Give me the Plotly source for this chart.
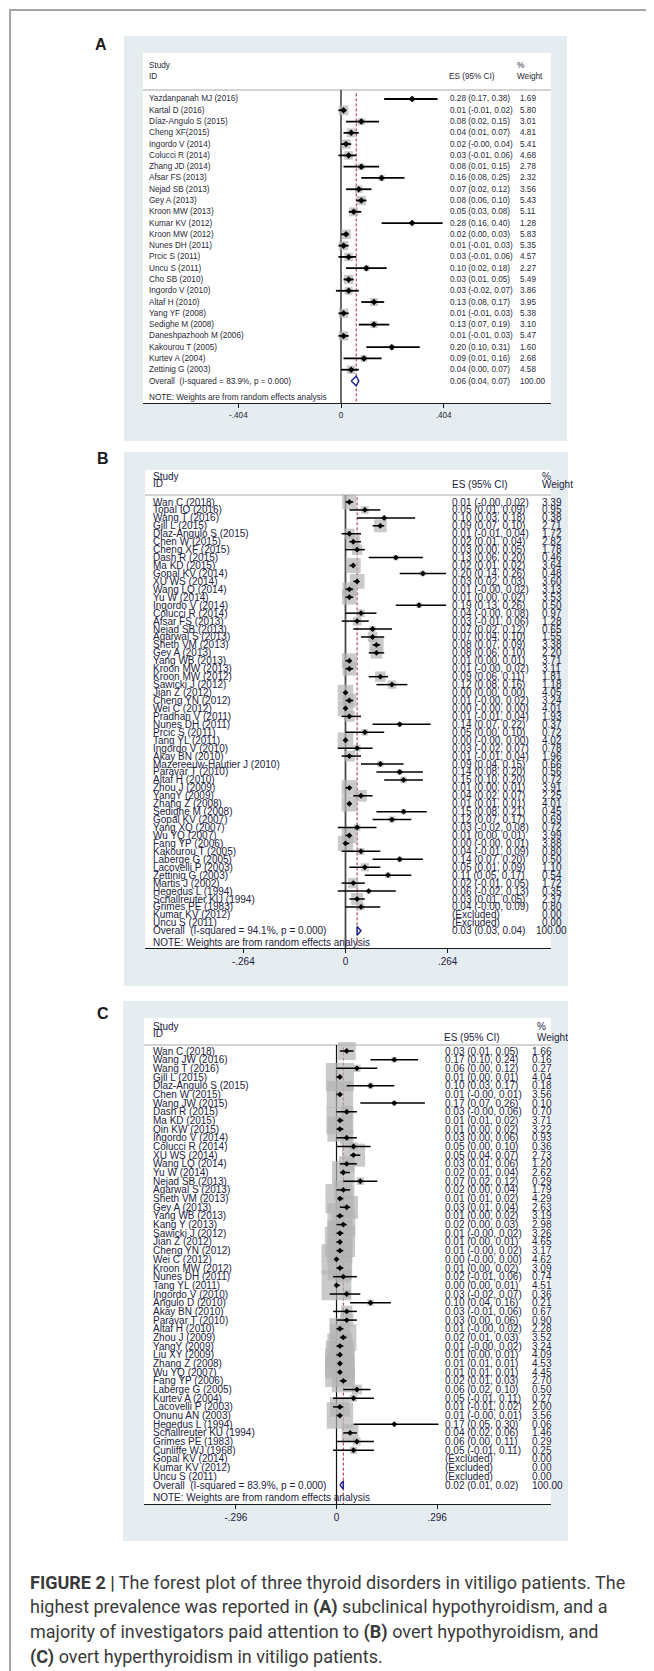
import math
import plotly.graph_objects as go

# ---------------- Panel A : subclinical hypothyroidism ----------------
a_study = ["Yazdanpanah MJ (2016)", "Kartal D (2016)", "Díaz-Angulo S (2015)", "Cheng XF(2015)",
           "Ingordo V (2014)", "Colucci R (2014)", "Zhang JD (2014)", "Afsar FS (2013)",
           "Nejad SB (2013)", "Gey A (2013)", "Kroon MW (2013)", "Kumar KV (2012)",
           "Kroon MW (2012)", "Nunes DH (2011)", "Prcic S (2011)", "Uncu S (2011)",
           "Cho SB (2010)", "Ingordo V (2010)", "Altaf H (2010)", "Yang YF (2008)",
           "Sedighe M (2008)", "Daneshpazhooh M (2006)", "Kakourou T (2005)", "Kurtev A (2004)",
           "Zettinig G (2003)"]
a_es = [0.28, 0.01, 0.08, 0.04, 0.02, 0.03, 0.08, 0.16, 0.07, 0.08, 0.05, 0.28, 0.02,
        0.01, 0.03, 0.10, 0.03, 0.03, 0.13, 0.01, 0.13, 0.01, 0.20, 0.09, 0.04]
a_lo = [0.17, -0.01, 0.02, 0.01, -0.0, -0.01, 0.01, 0.08, 0.02, 0.06, 0.03, 0.16, 0.00,
        -0.01, -0.01, 0.02, 0.01, -0.02, 0.08, -0.01, 0.07, -0.01, 0.10, 0.01, 0.00]
a_hi = [0.38, 0.02, 0.15, 0.07, 0.04, 0.06, 0.15, 0.25, 0.12, 0.10, 0.08, 0.40, 0.03,
        0.03, 0.06, 0.18, 0.05, 0.07, 0.17, 0.03, 0.19, 0.03, 0.31, 0.16, 0.07]
a_wt = [1.69, 5.80, 3.01, 4.81, 5.41, 4.68, 2.78, 2.32, 3.56, 5.43, 5.11, 1.28, 5.83,
        5.35, 4.57, 2.27, 5.49, 3.86, 3.95, 5.38, 3.10, 5.47, 1.60, 2.68, 4.58]
a_overall = [0.06, 0.04, 0.07]
a_isq = "83.9%"
a_ticks = [-0.404, 0, 0.404]
a_ticktext = ["-.404", "0", ".404"]

# ---------------- Panel B : overt hypothyroidism ----------------
b_study = ["Wan C (2018)", "Topal IO (2016)", "Wang T (2016)", "Gjll L (2015)", "Diaz-Angulo S (2015)",
           "Chen W (2015)", "Cheng XF (2015)", "Dash R (2015)", "Ma KD (2015)", "Gopal KV (2014)",
           "XU WS (2014)", "Wang LQ (2014)", "Yu W (2014)", "Ingordo V (2014)", "Colucci R (2014)",
           "Afsar FS (2013)", "Nejad SB (2013)", "Agarwal S (2013)", "Sheth VM (2013)", "Gey A (2013)",
           "Yang WB (2013)", "Kroon MW (2013)", "Kroon MW (2012)", "Sawicki J (2012)", "Jian Z (2012)",
           "Cheng YN (2012)", "Wei C (2012)", "Pradhan V (2011)", "Nunes DH (2011)", "Prcic S (2011)",
           "Tang YL (2011)", "Ingordo V (2010)", "Akay BN (2010)", "Mazereeuw-Hautier J (2010)",
           "Paravar T (2010)", "Altaf H (2010)", "Zhou J (2009)", "YangY (2009)", "Zhang Z (2008)",
           "Sedighe M (2008)", "Gopal KV (2007)", "Yang XQ (2007)", "Wu YQ (2007)", "Fang YP (2006)",
           "Kakourou T (2005)", "Laberge G (2005)", "Lacovelli P (2003)", "Zettinig G (2003)",
           "Martis J (2002)", "Hegedus L (1994)", "Schallreuter KU (1994)", "Grimes PE (1983)",
           "Kumar KV (2012)", "Uncu S (2011)"]
b_es = [0.01, 0.05, 0.10, 0.09, 0.01, 0.02, 0.03, 0.13, 0.02, 0.20,
        0.03, 0.01, 0.01, 0.19, 0.04, 0.03, 0.07, 0.07, 0.08, 0.08,
        0.01, 0.01, 0.09, 0.12, 0.00, 0.01, 0.00, 0.01, 0.14, 0.05,
        0.00, 0.03, 0.01, 0.09, 0.14, 0.15, 0.01, 0.04, 0.01, 0.15,
        0.12, 0.03, 0.01, 0.00, 0.04, 0.14, 0.05, 0.11, 0.02, 0.06,
        0.03, 0.04, None, None]
b_lo = [-0.0, 0.01, 0.03, 0.07, -0.01, 0.01, 0.00, 0.06, 0.01, 0.14,
        0.02, -0.0, 0.00, 0.13, -0.0, -0.01, 0.02, 0.04, 0.07, 0.06,
        0.00, -0.0, 0.06, 0.08, 0.00, -0.0, -0.0, -0.01, 0.07, 0.00,
        -0.0, -0.02, -0.01, 0.04, 0.08, 0.10, 0.00, 0.02, 0.01, 0.08,
        0.07, -0.02, 0.00, -0.0, -0.01, 0.07, 0.01, 0.05, -0.01, -0.02,
        0.01, -0.0, None, None]
b_hi = [0.02, 0.09, 0.18, 0.10, 0.04, 0.04, 0.05, 0.20, 0.02, 0.26,
        0.03, 0.02, 0.02, 0.26, 0.08, 0.06, 0.12, 0.10, 0.09, 0.10,
        0.01, 0.02, 0.11, 0.16, 0.00, 0.02, 0.00, 0.04, 0.22, 0.10,
        0.00, 0.07, 0.04, 0.15, 0.20, 0.20, 0.01, 0.07, 0.01, 0.21,
        0.17, 0.08, 0.01, 0.01, 0.09, 0.20, 0.09, 0.17, 0.05, 0.13,
        0.05, 0.09, None, None]
b_wt = [3.39, 0.95, 0.38, 2.71, 1.72, 2.82, 1.78, 0.46, 3.64, 0.48,
        3.60, 3.13, 3.53, 0.50, 0.97, 1.28, 0.65, 1.55, 3.38, 2.20,
        3.71, 3.11, 1.81, 1.18, 4.05, 3.24, 4.01, 1.93, 0.37, 0.72,
        4.02, 0.78, 1.96, 0.66, 0.56, 0.72, 3.91, 2.25, 4.01, 0.45,
        0.69, 0.72, 3.99, 3.88, 0.80, 0.50, 1.10, 0.54, 1.72, 0.35,
        2.37, 0.80, 0.00, 0.00]
b_overall = [0.03, 0.03, 0.04]
b_isq = "94.1%"
b_ticks = [-0.264, 0, 0.264]
b_ticktext = ["-.264", "0", ".264"]

# ---------------- Panel C : overt hyperthyroidism ----------------
c_study = ["Wan C (2018)", "Wang JW (2016)", "Wang T (2016)", "Gjll L (2015)", "Diaz-Angulo S (2015)",
           "Chen W (2015)", "Wang JW (2015)", "Dash R (2015)", "Ma KD (2015)", "Qin KW (2015)",
           "Ingordo V (2014)", "Colucci R (2014)", "XU WS (2014)", "Wang LQ (2014)", "Yu W (2014)",
           "Nejad SB (2013)", "Agarwal S (2013)", "Sheth VM (2013)", "Gey A (2013)", "Yang WB (2013)",
           "Kang Y (2013)", "Sawicki J (2012)", "Jian Z (2012)", "Cheng YN (2012)", "Wei C (2012)",
           "Kroon MW (2012)", "Nunes DH (2011)", "Tang YL (2011)", "Ingordo V (2010)", "Angulo D (2010)",
           "Akay BN (2010)", "Paravar T (2010)", "Altaf H (2010)", "Zhou J (2009)", "YangY (2009)",
           "Liu XY (2009)", "Zhang Z (2008)", "Wu YQ (2007)", "Fang YP (2006)", "Laberge G (2005)",
           "Kurtev A (2004)", "Lacovelli P (2003)", "Onunu AN (2003)", "Hegedus L (1994)",
           "Schallreuter KU (1994)", "Grimes PE (1983)", "Cunliffe WJ (1968)", "Gopal KV (2014)",
           "Kumar KV (2012)", "Uncu S (2011)"]
c_es = [0.03, 0.17, 0.06, 0.01, 0.10, 0.01, 0.17, 0.03, 0.01, 0.01,
        0.03, 0.05, 0.05, 0.03, 0.02, 0.07, 0.02, 0.01, 0.03, 0.01,
        0.02, 0.01, 0.01, 0.01, 0.00, 0.01, 0.02, 0.00, 0.03, 0.10,
        0.03, 0.03, 0.01, 0.02, 0.01, 0.01, 0.01, 0.01, 0.02, 0.06,
        0.05, 0.01, 0.01, 0.17, 0.04, 0.06, 0.05, None, None, None]
c_lo = [0.01, 0.10, 0.00, 0.00, 0.03, -0.0, 0.07, -0.0, 0.01, 0.00,
        0.00, 0.00, 0.04, 0.01, 0.01, 0.02, 0.00, 0.01, 0.01, 0.00,
        0.00, -0.0, 0.00, -0.0, -0.0, 0.00, -0.01, 0.00, -0.02, 0.04,
        -0.01, 0.00, -0.0, 0.01, -0.0, 0.00, 0.01, 0.01, 0.01, 0.02,
        -0.01, -0.01, -0.0, 0.05, 0.02, 0.00, -0.01, None, None, None]
c_hi = [0.05, 0.24, 0.12, 0.01, 0.17, 0.01, 0.26, 0.06, 0.02, 0.02,
        0.06, 0.10, 0.07, 0.06, 0.04, 0.12, 0.04, 0.02, 0.04, 0.02,
        0.03, 0.02, 0.01, 0.02, 0.00, 0.02, 0.06, 0.01, 0.07, 0.16,
        0.06, 0.06, 0.02, 0.03, 0.02, 0.01, 0.01, 0.01, 0.03, 0.10,
        0.11, 0.02, 0.01, 0.30, 0.06, 0.11, 0.11, None, None, None]
c_wt = [1.66, 0.16, 0.27, 4.04, 0.18, 3.56, 0.10, 0.70, 3.71, 3.22,
        0.93, 0.36, 2.73, 1.20, 2.62, 0.29, 1.79, 4.29, 2.63, 3.19,
        2.98, 3.26, 4.65, 3.17, 4.62, 3.09, 0.74, 4.51, 0.36, 0.21,
        0.67, 0.90, 2.28, 3.52, 3.24, 4.09, 4.53, 4.45, 2.70, 0.50,
        0.27, 2.00, 3.56, 0.06, 1.46, 0.29, 0.25, 0.00, 0.00, 0.00]
c_overall = [0.02, 0.01, 0.02]
c_isq = "83.9%"
c_ticks = [-0.296, 0, 0.296]
c_ticktext = ["-.296", "0", ".296"]

caption_lines = [
    "<b>FIGURE 2 |</b> The forest plot of three thyroid disorders in vitiligo patients. The",
    "highest prevalence was reported in <b>(A)</b> subclinical hypothyroidism, and a",
    "majority of investigators paid attention to <b>(B)</b> overt hypothyroidism, and",
    "<b>(C)</b> overt hyperthyroidism in vitiligo patients.",
]

# ---------------- layout / style ----------------
W, H = 654, 1671
FONT = "Liberation Sans, Arial, sans-serif"
PANEL_BG = "#e6edf1"
RED = "#a3283e"
NAVY = "#24248c"

panels = [
    dict(label="A", study=a_study, es=a_es, lo=a_lo, hi=a_hi, wt=a_wt, ov=a_overall, isq=a_isq,
         ticks=a_ticks, ticktext=a_ticktext,
         bg=(116, 28, 559, 433), inner=(135, 45, 543, 395), zero=333.0, ppu=254.0,
         row0=91.0, dy=11.28, y_study=57, y_id=68, y_es=68, y_pct=57, y_wt=68, y_sep=82,
         y_note=390, x_name=140, x_es=441, x_wt=511, x_wt_ov=511, x_hes=440, x_hwt=508,
         fs=8.2, box_k=4.0, box_col="#b2b2b2", pt=5, ci_w=1.8, dia_h=0.42,
         null_col="#3a3a3a", null_w=1.5, lab=(93, 37), tcol="#2a2a36"),
    dict(label="B", study=b_study, es=b_es, lo=b_lo, hi=b_hi, wt=b_wt, ov=b_overall, isq=b_isq,
         ticks=b_ticks, ticktext=b_ticktext,
         bg=(116, 444, 560, 978), inner=(137, 462, 543, 940), zero=337.5, ppu=387.0,
         row0=494.0, dy=7.94, y_study=469, y_id=475.5, y_es=477, y_pct=469, y_wt=477, y_sep=487,
         y_note=935, x_name=144, x_es=443, x_wt=533, x_wt_ov=527, x_hes=443, x_hwt=533,
         fs=10, box_k=7.8, box_col="#b3b3b3", pt=4.5, ci_w=1.5, dia_h=0.55,
         null_col="#4a4a4a", null_w=1.8, lab=(95, 451), tcol="#1c1c40"),
    dict(label="C", study=c_study, es=c_es, lo=c_lo, hi=c_hi, wt=c_wt, ov=c_overall, isq=c_isq,
         ticks=c_ticks, ticktext=c_ticktext,
         bg=(115, 993, 560, 1533), inner=(136, 1010, 543, 1496), zero=328.5, ppu=340.0,
         row0=1043.0, dy=8.68, y_study=1018, y_id=1025, y_es=1029, y_pct=1018, y_wt=1029, y_sep=1037,
         y_note=1489, x_name=144, x_es=436, x_wt=523, x_wt_ov=523, x_hes=435, x_hwt=528,
         fs=10, box_k=14.0, box_col="#b3b3b3", pt=4.5, ci_w=1.5, dia_h=0.45,
         null_col="#111111", null_w=1.2, lab=(95, 1005), tcol="#1c1c40"),
]


def px(x):
    return x / W


def py(y):
    return 1 - y / H


def fmt(v):
    return f"{v:.2f}"


fig = go.Figure()
shapes = []
annotations = []
layout_axes = {}

# outer frame
shapes.append(dict(type="rect", xref="paper", yref="paper", x0=px(2), x1=px(652), y0=py(2), y1=py(H + 20),
                   line=dict(color="#a4a4a4", width=2), fillcolor="rgba(0,0,0,0)", layer="below"))

for i, p in enumerate(panels, start=1):
    xa = "x" if i == 1 else f"x{i}"
    ya = "y" if i == 1 else f"y{i}"
    l, t, r, b = p["inner"]
    zero, ppu, row0, dy = p["zero"], p["ppu"], p["row0"], p["dy"]
    xr = [(l - zero) / ppu, (r - zero) / ppu]
    yr = [(b - row0) / dy, (t - row0) / dy]
    row = lambda ypix: (ypix - row0) / dy
    n = len(p["study"])
    rows = list(range(n))
    ov_row = n

    layout_axes["xaxis" + ("" if i == 1 else str(i))] = dict(
        domain=[px(l), px(r)], range=xr, anchor=ya, showgrid=False, zeroline=False,
        showline=True, linecolor="#1a1a1a", linewidth=1.3, ticks="outside", ticklen=4,
        tickcolor="#1a1a1a", tickwidth=1, tickvals=p["ticks"], ticktext=p["ticktext"],
        tickfont=dict(size=p["fs"], color=p["tcol"], family=FONT), fixedrange=True)
    layout_axes["yaxis" + ("" if i == 1 else str(i))] = dict(
        domain=[py(b), py(t)], range=yr, anchor=xa, visible=False, fixedrange=True)

    # panel background + white plot region
    x0b, y0b, x1b, y1b = p["bg"]
    shapes.append(dict(type="rect", xref="paper", yref="paper", x0=px(x0b), x1=px(x1b), y0=py(y1b), y1=py(y0b),
                       fillcolor=PANEL_BG, line=dict(width=0), layer="below"))
    shapes.append(dict(type="rect", xref="paper", yref="paper", x0=px(l), x1=px(r), y0=py(b), y1=py(t),
                       fillcolor="white", line=dict(width=0), layer="below"))
    # header separator
    shapes.append(dict(type="line", xref="paper", yref="paper", x0=px(l), x1=px(r), y0=py(p["y_sep"]), y1=py(p["y_sep"]),
                       line=dict(color="#c4c4c4", width=1.5), layer="below"))
    # null line and overall line
    shapes.append(dict(type="line", xref=xa, yref=ya, x0=0, x1=0, y0=row(p["y_sep"]), y1=yr[0],
                       line=dict(color=p["null_col"], width=p["null_w"]), layer="below"))
    shapes.append(dict(type="line", xref=xa, yref=ya, x0=p["ov"][0], x1=p["ov"][0], y0=row(p["y_sep"]) + 0.3, y1=yr[0],
                       line=dict(color=RED, width=1, dash="3px,2px"), layer="below"))

    valid = [k for k in rows if p["es"][k] is not None]
    # weight boxes
    fig.add_trace(go.Scatter(
        x=[p["es"][k] for k in valid], y=[k for k in valid], mode="markers",
        marker=dict(symbol="square", size=[p["box_k"] * math.sqrt(p["wt"][k]) for k in valid],
                    color=p["box_col"], line=dict(width=0)),
        xaxis=xa, yaxis=ya, hoverinfo="skip", showlegend=False))
    # CIs and point estimates
    fig.add_trace(go.Scatter(
        x=[p["es"][k] for k in valid], y=[k for k in valid], mode="markers",
        marker=dict(symbol="diamond", size=p["pt"], color="black"),
        error_x=dict(type="data", symmetric=False,
                     array=[p["hi"][k] - p["es"][k] for k in valid],
                     arrayminus=[p["es"][k] - p["lo"][k] for k in valid],
                     color="black", thickness=p["ci_w"], width=0),
        xaxis=xa, yaxis=ya, hoverinfo="skip", showlegend=False))
    # overall diamond
    oes, olo, ohi = p["ov"]
    h = p["dia_h"]
    fig.add_trace(go.Scatter(
        x=[olo, oes, ohi, oes, olo], y=[ov_row, ov_row - h, ov_row, ov_row + h, ov_row],
        mode="lines", line=dict(color=NAVY, width=1.5), fill="toself", fillcolor="white",
        xaxis=xa, yaxis=ya, hoverinfo="skip", showlegend=False))

    f = dict(family=FONT, size=p["fs"], color=p["tcol"])

    def ann(x, y, text, yref="paper", xanchor="left"):
        annotations.append(dict(x=x, y=y, xref="paper", yref=yref, text=text, showarrow=False,
                                xanchor=xanchor, yanchor="middle", font=f, borderpad=0))

    # headers
    ann(px(p["x_name"]), py(p["y_study"]), "Study")
    ann(px(p["x_name"]), py(p["y_id"]), "ID")
    ann(px(p["x_hes"]), py(p["y_es"]), "ES (95% CI)")
    ann(px(p["x_hwt"]), py(p["y_pct"]), "%")
    ann(px(p["x_hwt"]), py(p["y_wt"]), "Weight")

    # study rows
    for k in rows:
        ann(px(p["x_name"]), k, p["study"][k], yref=ya)
        if p["es"][k] is None:
            ann(px(p["x_es"]), k, "(Excluded)", yref=ya)
        else:
            ann(px(p["x_es"]), k, f"{fmt(p['es'][k])} ({fmt(p['lo'][k])}, {fmt(p['hi'][k])})", yref=ya)
        ann(px(p["x_wt"]), k, fmt(p["wt"][k]), yref=ya)
    # overall row
    ann(px(p["x_name"]), ov_row, f"Overall\u00a0\u00a0(I-squared = {p['isq']}, p = 0.000)", yref=ya)
    ann(px(p["x_es"]), ov_row, f"{fmt(oes)} ({fmt(olo)}, {fmt(ohi)})", yref=ya)
    ann(px(p["x_wt_ov"]), ov_row, "100.00", yref=ya)
    ann(px(p["x_name"]), py(p["y_note"]), "NOTE: Weights are from random effects analysis")

    # panel letter
    annotations.append(dict(x=px(p["lab"][0]), y=py(p["lab"][1]), xref="paper", yref="paper",
                            text=f"<b>{p['label']}</b>", showarrow=False, xanchor="center", yanchor="middle",
                            font=dict(family=FONT, size=16, color="#1a1a1a")))

# caption
cap_y = [1574, 1599, 1624, 1649]
for line, yy in zip(caption_lines, cap_y):
    annotations.append(dict(x=px(20), y=py(yy), xref="paper", yref="paper", text=line, showarrow=False,
                            xanchor="left", yanchor="middle",
                            font=dict(family="Roboto, sans-serif", size=18, color="#3a3a3a")))

fig.update_layout(
    width=W, height=H, autosize=False,
    margin=dict(l=0, r=0, t=0, b=0),
    paper_bgcolor="white", plot_bgcolor="rgba(0,0,0,0)",
    showlegend=False, shapes=shapes, annotations=annotations,
    font=dict(family=FONT),
    **layout_axes,
)

fig.write_html("out.html")
